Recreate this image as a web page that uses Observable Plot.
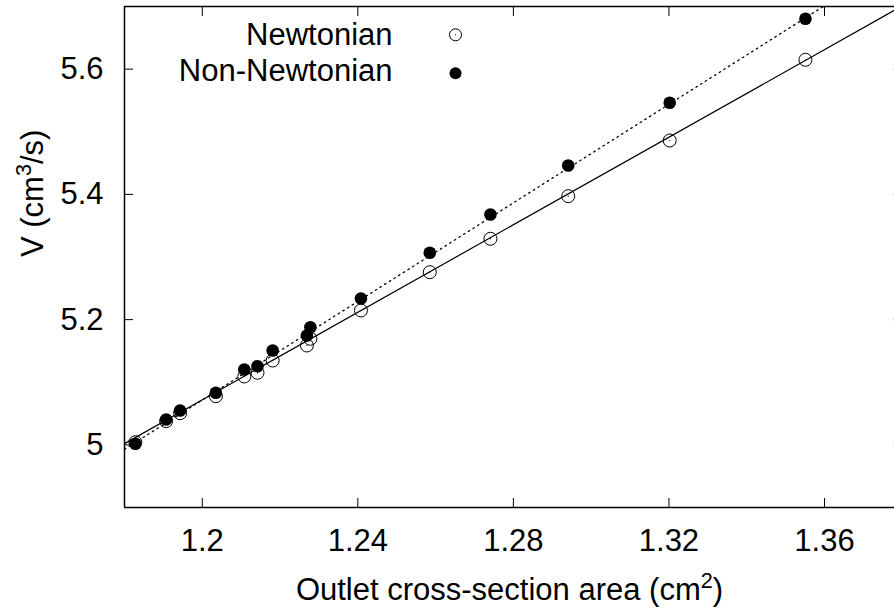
<!DOCTYPE html>
<html><head><meta charset="utf-8">
<script src="https://cdn.jsdelivr.net/npm/d3@7"></script>
<script src="https://cdn.jsdelivr.net/npm/@observablehq/plot@0.6"></script>
<style>
html,body{margin:0;padding:0;background:#fff;overflow:hidden}
</style></head><body><div id="chart"></div>
<script>
const seriesNames = ["Newtonian", "Non-Newtonian"];
const area = [1.1828, 1.1907, 1.1943, 1.2035, 1.2108, 1.2142, 1.2181, 1.2269, 1.2278, 1.2408, 1.2585, 1.2741, 1.2941, 1.3202, 1.3551];
const flowNewtonian = [5.0043, 5.0378, 5.0506, 5.0777, 5.1092, 5.1151, 5.1347, 5.1587, 5.1694, 5.2146, 5.2757, 5.3291, 5.3971, 5.4860, 5.6149];
const flowNonNewtonian = [5.0017, 5.0405, 5.0549, 5.0832, 5.1204, 5.1256, 5.1507, 5.1747, 5.1879, 5.2337, 5.3067, 5.3679, 5.4461, 5.5462, 5.6804];
const fitArea = [1.18, 1.378];
const fitNewtonian = [5.002, 5.694];
const fitNonNewtonian = [4.993, 5.772];
const xTicks = [1.2, 1.24, 1.28, 1.32, 1.36];
const yTicks = [5.0, 5.2, 5.4, 5.6];
const xDomain = [1.18, 1.378];
const yDomain = [4.9, 5.7];
const xLabel = ["Outlet cross-section area (cm", "2", ")"];
const yLabel = ["V (cm", "3", "/s)"];

const newt = area.map((x, i) => ({x, y: flowNewtonian[i]}));
const nonNewt = area.map((x, i) => ({x, y: flowNonNewtonian[i]}));
const fitN = fitArea.map((x, i) => ({x, y: fitNewtonian[i]}));
const fitNN = fitArea.map((x, i) => ({x, y: fitNonNewtonian[i]}));
const fmt = d => String(d);
const font = "'Liberation Sans', Arial, Helvetica, sans-serif";

const plot = Plot.plot({
  width: 894, height: 612,
  marginLeft: 124, marginRight: 0, marginTop: 6, marginBottom: 105,
  style: {fontFamily: font, fontSize: "31px", color: "black", background: "white"},
  x: {domain: xDomain},
  y: {domain: yDomain},
  marks: [
    Plot.axisX(xTicks, {anchor: "bottom", tickSize: -9, tickPadding: 30, tickFormat: fmt, label: null}),
    Plot.axisX(xTicks, {anchor: "top", tickSize: -9, tickFormat: () => "", label: null}),
    Plot.axisY(yTicks, {anchor: "left", tickSize: -9, tickPadding: 30, tickFormat: fmt, label: null}),
    Plot.axisY(yTicks, {anchor: "right", tickSize: -2, tickFormat: () => "", label: null, stroke: "#bbb"}),
    Plot.ruleY(yDomain, {strokeWidth: 1.5}),
    Plot.ruleX([xDomain[0]], {strokeWidth: 1.5}),
    Plot.line(fitN, {x: "x", y: "y", stroke: "black", strokeWidth: 1.2, clip: true}),
    Plot.line(fitNN, {x: "x", y: "y", stroke: "black", strokeWidth: 1.3, strokeDasharray: "1.5,4", clip: true}),
    Plot.dot(newt, {x: "x", y: "y", r: 6.5, stroke: "black", fill: "none", strokeWidth: 1}),
    Plot.dot(newt, {x: "x", y: "y", r: 0.6, fill: "black"}),
    Plot.dot(nonNewt, {x: "x", y: "y", r: 6.3, fill: "black"}),
    Plot.text([seriesNames[0]], {frameAnchor: "top-left", dx: 268, dy: 29, textAnchor: "end", lineAnchor: "middle"}),
    Plot.text([seriesNames[1]], {frameAnchor: "top-left", dx: 268, dy: 65, textAnchor: "end", lineAnchor: "middle"}),
    Plot.dot([0], {frameAnchor: "top-left", dx: 331, dy: 28.3, r: 6, stroke: "black", fill: "none", strokeWidth: 1}),
    Plot.dot([0], {frameAnchor: "top-left", dx: 331, dy: 28.3, r: 0.6, fill: "black"}),
    Plot.dot([0], {frameAnchor: "top-left", dx: 331, dy: 66.7, r: 6, fill: "black"}),
    Plot.text([yLabel.join("")], {frameAnchor: "left", dx: -91, rotate: -90, lineAnchor: "middle", className: "ylab"}),
    Plot.text([xLabel.join("")], {frameAnchor: "bottom", dy: 83, lineAnchor: "middle", className: "xlab"})
  ]
});

// render superscripts as raised, smaller tspans
function superscript(sel, parts) {
  sel.each(function() {
    const t = d3.select(this);
    t.text(null);
    t.append("tspan").text(parts[0]);
    t.append("tspan").attr("baseline-shift", "super").attr("font-size", "70%").text(parts[1]);
    t.append("tspan").text(parts[2]);
  });
}
const svg = d3.select(plot);
superscript(svg.selectAll(".ylab text"), yLabel);
superscript(svg.selectAll(".xlab text"), xLabel);
document.getElementById("chart").appendChild(plot);
</script></body></html>
